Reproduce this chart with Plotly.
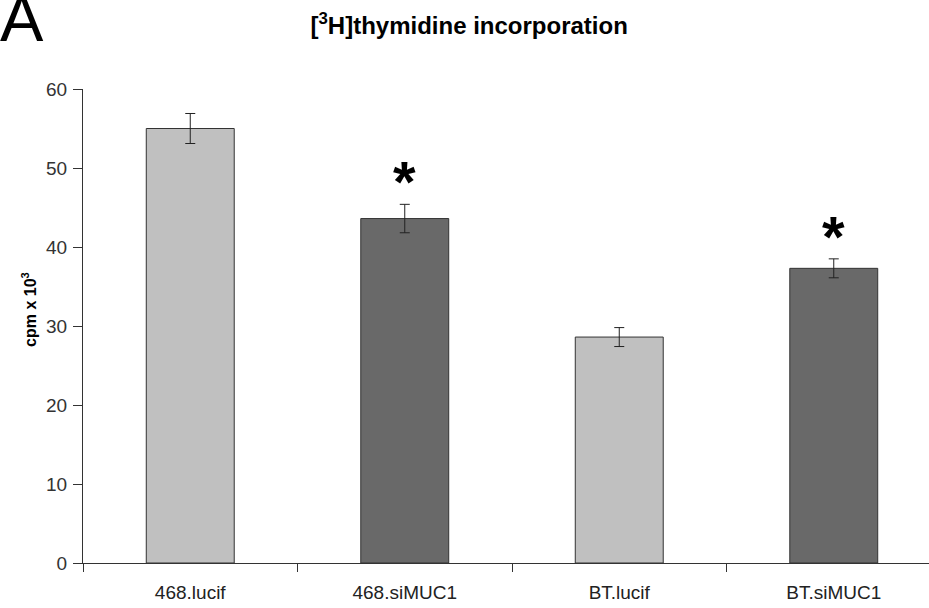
import plotly.graph_objects as go

categories = ["468.lucif", "468.siMUC1", "BT.lucif", "BT.siMUC1"]
values = [55.0, 43.6, 28.6, 37.3]
errors = [1.9, 1.8, 1.2, 1.2]
bar_colors = ["#C0C0C0", "#696969", "#C0C0C0", "#696969"]
significant = [False, True, False, True]
y_ticks = [0, 10, 20, 30, 40, 50, 60]

FONT = "Liberation Sans"

fig = go.Figure()
fig.add_trace(go.Bar(
    x=categories, y=values,
    marker=dict(color=bar_colors, line=dict(color="#333333", width=1)),
    width=0.41,
    error_y=dict(type="data", array=errors, visible=True,
                 color="#222222", thickness=1, width=5),
    showlegend=False,
))

for c, v, e, s in zip(categories, values, errors, significant):
    if s:
        fig.add_annotation(x=c, y=v + e, yref="y", xref="x", text="<b>*</b>",
                           showarrow=False, yanchor="bottom", yshift=-12,
                           font=dict(family=FONT, size=58, color="black"))

fig.add_annotation(xref="paper", yref="paper", x=-0.1005, y=1.0, yshift=109,
                   text="A", showarrow=False, xanchor="left", yanchor="top",
                   font=dict(family=FONT, size=65, color="black"))

# y-axis title placed as rotated text (sits slightly above the plot centre)
fig.add_annotation(xref="paper", yref="paper", x=-0.0638, y=0.534,
                   text="<b>cpm x 10<sup>3</sup></b>", showarrow=False,
                   textangle=-90, xanchor="center", yanchor="middle",
                   font=dict(family=FONT, size=16, color="black"))

fig.update_layout(
    width=929, height=608,
    margin=dict(l=83, r=0, t=89, b=45),
    plot_bgcolor="white", paper_bgcolor="white",
    title=dict(text="<b>[<sup>3</sup>H]thymidine incorporation</b>",
               x=0.505, xanchor="center", y=0.958, yanchor="middle",
               font=dict(family=FONT, size=24, color="black")),
    font=dict(family=FONT, color="#222222"),
)
fig.update_xaxes(
    range=[-0.5, 3.444], showline=True, linecolor="#333333", linewidth=1,
    ticks="outside", tickson="boundaries", ticklen=8, tickcolor="#333333",
    tickfont=dict(size=19, color="#222222"), ticklabelstandoff=12, showgrid=False,
)
fig.update_yaxes(
    range=[0, 60], tickvals=y_ticks, showline=True, linecolor="#333333", linewidth=1,
    ticks="outside", ticklen=9, tickcolor="#333333", showgrid=False, zeroline=False,
    tickfont=dict(size=19, color="#333333"), ticklabelstandoff=2,
)

fig.write_html("out.html", config={"displayModeBar": False},
               post_script="document.body.style.margin='0px';")
